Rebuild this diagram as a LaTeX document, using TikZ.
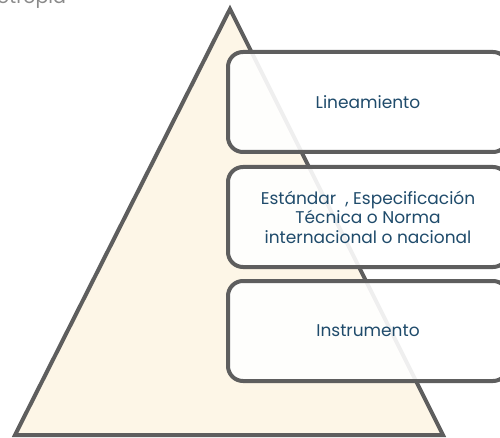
\documentclass[tikz,border=0pt]{standalone}
\usepackage{fontspec}
\setmainfont{Poppins}
\usetikzlibrary{positioning}
\definecolor{edgegray}{HTML}{5E5E5E}
\definecolor{cream}{HTML}{FDF6E7}
\definecolor{textblue}{HTML}{1F4B6B}
\definecolor{titlegray}{HTML}{8A8A8A}
\tikzset{
  level/.style={rectangle,rounded corners=15pt,draw=edgegray,line width=4pt,
    fill=white,fill opacity=0.9,text opacity=1,text=textblue,
    minimum width=280pt,minimum height=100pt,align=center,
    font=\fontsize{17}{19.5}\selectfont},
}
\begin{document}
\begin{tikzpicture}[x=1pt,y=-1pt]
    \useasboundingbox (0,0) rectangle (500,438);
    \clip (0,0) rectangle (500,438);
    \node (title) [anchor=base west,text=titlegray,inner sep=0pt,font=\fontsize{19}{21}\selectfont] at (-3,4) {otropía};
    \path [draw=edgegray,fill=cream,line width=4pt] (230,9) coordinate (apex) -- (443,435) coordinate (right) -- (15,435) coordinate (left) -- cycle;
    \node (lineamiento) at (368,102) [level] {Lineamiento};
    \node (estandar) at (368,217) [level] {Estándar~ , Especificación\\Técnica o Norma\\internacional o nacional};
    \node (instrumento) at (368,331) [level] {Instrumento};
\end{tikzpicture}
\end{document}
